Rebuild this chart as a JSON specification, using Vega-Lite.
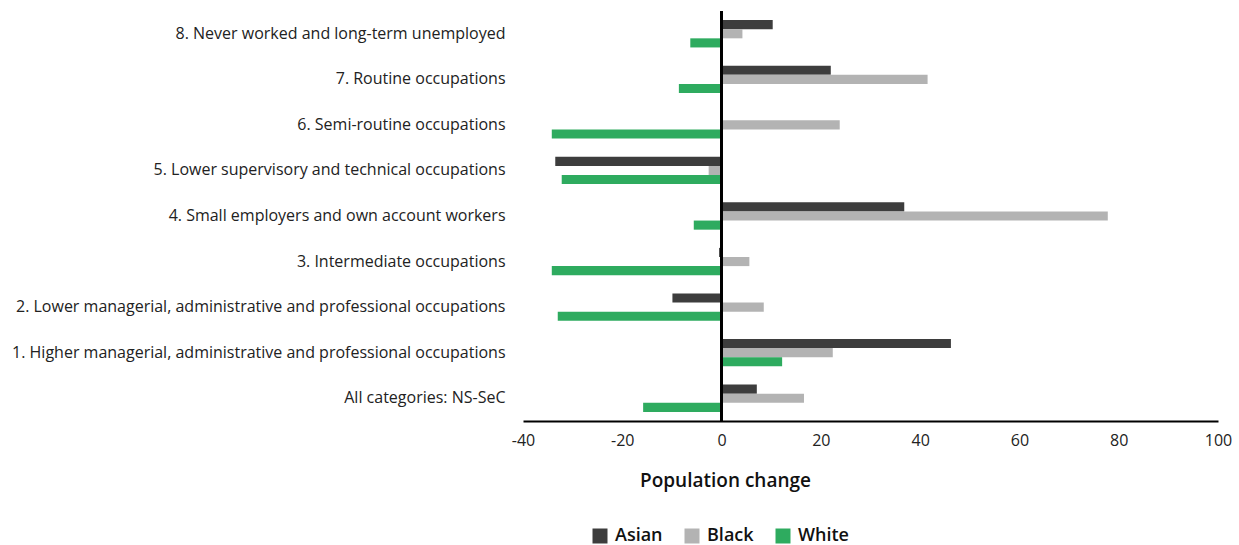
{
  "$schema": "https://vega.github.io/schema/vega-lite/v6.json",
  "width": 695,
  "height": 410,
  "autosize": {"type": "none"},
  "padding": {"left": 523, "top": 11, "right": 21, "bottom": 124},
  "background": "white",
  "config": {
    "view": {"stroke": null},
    "font": "Open Sans"
  },
  "data": {
    "values": [
      {"cat": "8. Never worked and long-term unemployed", "group": "Asian", "value": 10.3},
      {"cat": "8. Never worked and long-term unemployed", "group": "Black", "value": 4.2},
      {"cat": "8. Never worked and long-term unemployed", "group": "White", "value": -6.3},
      {"cat": "7. Routine occupations", "group": "Asian", "value": 22},
      {"cat": "7. Routine occupations", "group": "Black", "value": 41.5},
      {"cat": "7. Routine occupations", "group": "White", "value": -8.6},
      {"cat": "6. Semi-routine occupations", "group": "Asian", "value": -0.3},
      {"cat": "6. Semi-routine occupations", "group": "Black", "value": 23.8},
      {"cat": "6. Semi-routine occupations", "group": "White", "value": -34.2},
      {"cat": "5. Lower supervisory and technical occupations", "group": "Asian", "value": -33.5},
      {"cat": "5. Lower supervisory and technical occupations", "group": "Black", "value": -2.6},
      {"cat": "5. Lower supervisory and technical occupations", "group": "White", "value": -32.2},
      {"cat": "4. Small employers and own account workers", "group": "Asian", "value": 36.8},
      {"cat": "4. Small employers and own account workers", "group": "Black", "value": 77.8},
      {"cat": "4. Small employers and own account workers", "group": "White", "value": -5.6},
      {"cat": "3. Intermediate occupations", "group": "Asian", "value": -0.5},
      {"cat": "3. Intermediate occupations", "group": "Black", "value": 5.6},
      {"cat": "3. Intermediate occupations", "group": "White", "value": -34.2},
      {"cat": "2. Lower managerial, administrative and professional occupations", "group": "Asian", "value": -9.9},
      {"cat": "2. Lower managerial, administrative and professional occupations", "group": "Black", "value": 8.5},
      {"cat": "2. Lower managerial, administrative and professional occupations", "group": "White", "value": -33},
      {"cat": "1. Higher managerial, administrative and professional occupations", "group": "Asian", "value": 46.2},
      {"cat": "1. Higher managerial, administrative and professional occupations", "group": "Black", "value": 22.4},
      {"cat": "1. Higher managerial, administrative and professional occupations", "group": "White", "value": 12.2},
      {"cat": "All categories: NS-SeC", "group": "Asian", "value": 7.1},
      {"cat": "All categories: NS-SeC", "group": "Black", "value": 16.6},
      {"cat": "All categories: NS-SeC", "group": "White", "value": -15.8}
    ]
  },
  "layer": [
    {
      "mark": {"type": "bar"},
      "encoding": {
        "y": {
          "field": "cat",
          "type": "nominal",
          "sort": null,
          "scale": {"paddingInner": 0.4, "paddingOuter": 0.2},
          "axis": {
            "title": null,
            "domain": false,
            "ticks": false,
            "labelPadding": 18,
            "labelFontSize": 16,
            "labelColor": "#222222",
            "labelLimit": 520
          }
        },
        "yOffset": {"field": "group", "type": "nominal", "sort": ["Asian", "Black", "White"]},
        "x": {
          "field": "value",
          "type": "quantitative",
          "scale": {"domain": [-40, 100], "nice": false},
          "axis": {
            "title": "Population change",
            "values": [-40, -20, 0, 20, 40, 60, 80, 100],
            "labelExpr": "'' + datum.value",
            "labelFlush": false,
            "grid": false,
            "ticks": false,
            "domainColor": "#000000",
            "domainWidth": 2,
            "labelFontSize": 16,
            "labelColor": "#222222",
            "labelPadding": 11,
            "titleFontSize": 19,
            "titleFontWeight": 600,
            "titleColor": "#111111",
            "titlePadding": 23,
            "titleX": 202,
            "titleAnchor": null,
            "titleAlign": "center"
          }
        },
        "color": {
          "field": "group",
          "type": "nominal",
          "scale": {"domain": ["Asian", "Black", "White"], "range": ["#3d3d3d", "#b3b3b3", "#2eab5f"]},
          "legend": {
            "title": null,
            "orient": "none",
            "direction": "horizontal",
            "legendX": 68,
            "legendY": 516,
            "symbolType": "square",
            "symbolSize": 225,
            "symbolStrokeWidth": 0,
            "symbolOpacity": 1,
            "labelFontSize": 18,
            "labelFontWeight": 600,
            "labelColor": "#111111",
            "columnPadding": 20,
            "labelOffset": 6
          }
        }
      }
    },
    {
      "mark": {"type": "rule", "color": "#000000", "strokeWidth": 2},
      "encoding": {"x": {"datum": 0}}
    }
  ]
}
